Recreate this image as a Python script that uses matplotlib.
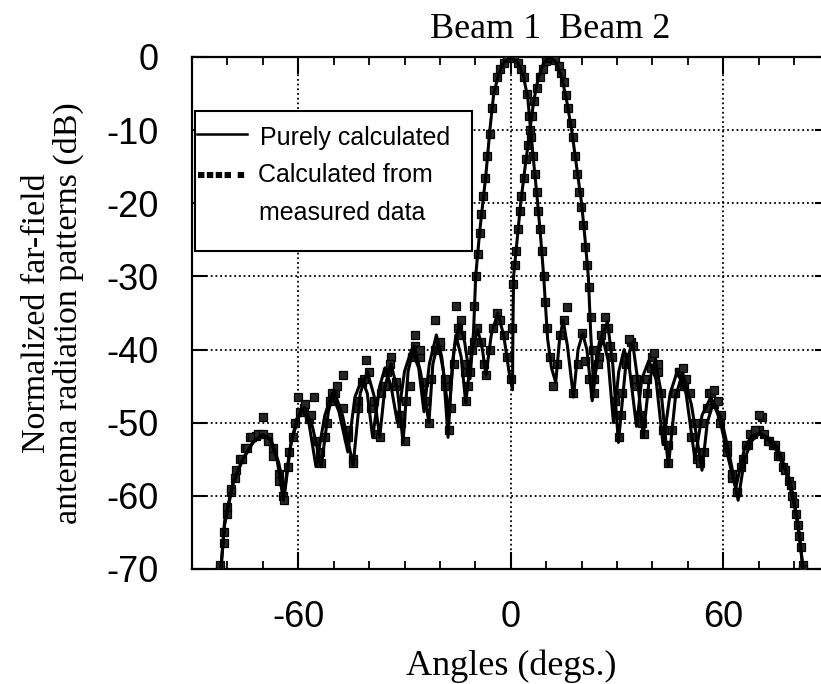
import matplotlib
matplotlib.use("Agg")
import matplotlib.pyplot as plt
from matplotlib.lines import Line2D
from matplotlib.patches import Rectangle

plt.rcParams['axes.unicode_minus'] = False

# ---------------- data ----------------
beam1_calc_x = [-82, -80.8, -78.3, -75.5, -72.5, -70, -67.6, -65.5, -63.8, -62, -59, -57, -55, -52.5,
                -50.5, -48.5, -46, -44, -42, -40.5, -39, -37, -35.5, -33.8, -32, -30, -28, -26, -24.5,
                -23, -21, -19.5, -17.5, -16, -14.5, -13, -11.5, -10.5, -9.9, -8.8, -7.9, -7.0, -5.9,
                -4.8, -3.5, -2, 0, 2, 3.5, 4.8, 5.6, 6.6, 7.6, 8.5, 9.3, 10.4, 11.5, 12.7, 13.8, 14.8,
                16, 17.7, 19, 20.3, 21.5, 23, 24.5, 26, 27.5, 29, 30.5, 32, 33.5, 35.5, 37, 39, 41, 43,
                45, 47, 49.5, 52, 54, 56.5, 59, 61.5, 63.5, 66, 68, 70, 72.5, 75, 77.5, 80, 81.5, 82.8]
beam1_calc_y = [-71, -63.5, -57.9, -54.9, -52.5, -51.6, -52.4, -55.5, -59.5, -52.5, -48, -50, -56, -49,
                -46, -48.5, -54, -46.5, -44, -46, -52, -45, -42.5, -45, -50, -43, -40, -42.5, -48.5,
                -42, -38, -41, -49, -40, -36.5, -39, -44, -37.5, -30, -24, -20, -16, -10,
                -5, -2.5, -0.8, 0, -0.8, -2.5, -5.5, -10, -15, -20, -25, -30, -38.5, -42.5, -44.5, -38.5, -36,
                -39.5, -46.5, -40, -37.8, -40, -47, -41, -38.5, -41.5, -50, -43, -40, -42.5, -50.5, -44, -41.5, -44, -53,
                -46, -43, -46, -55, -49, -46.5, -49.5, -55, -59, -53.5, -51.8, -51.5, -52.3, -53.8, -56.5, -61, -65.5, -71]

beam2_calc_x = [-82, -80.8, -78.5, -76, -73, -70.5, -68, -66, -64.2, -62.5, -60.5, -58.3, -56, -53.5,
                -51.5, -49.9, -47.5, -44.5, -42.5, -40.5, -38.5, -37, -35.5, -33.8, -32, -30.4, -29,
                -27.3, -25.5, -23.1, -22, -20.5, -19, -17.7, -16.5, -15.5, -14, -12.7, -11, -9.3, -8,
                -7, -5.5, -3.7, -2, -0.5, 0.5, 0.6, 0.8, 1.8, 2.8, 3.8, 5.4, 6.5, 7.8, 9.3, 11.1, 12.9,
                14.4, 15.8, 17.2, 18.6, 20.0, 21.0, 21.9, 22.6, 23.4, 25, 27.3, 28.8, 30.4, 32.5, 34.4,
                35.8, 37.4, 39, 40.8, 42.5, 44.5, 46.5, 48.5, 51, 54, 55.5, 57.2, 59.5, 62, 64.2, 66, 68,
                70.4, 73, 75.2, 78.9, 81.1, 82.6]
beam2_calc_y = [-71, -64, -58.5, -55.3, -52.8, -51.8, -52.2, -55, -60.6, -54, -49.5, -47.9, -50.5, -56,
                -48.5, -45.6, -49, -55.8, -46, -43, -46.5, -52, -45, -42, -45.5, -52.7, -43,
                -39.5, -43, -50, -42, -39, -43, -52, -42, -38, -41, -47.3, -40, -37.3, -40,
                -43.5, -38, -35, -38, -43, -45.5, -38, -30, -25, -20, -16, -10, -6, -2.8, -0.8, 0, -0.8,
                -2.8, -6, -10, -15, -20, -25, -30, -38, -45, -39, -36.2, -42, -52.7, -42, -39,
                -44, -52, -44.5, -41.4, -46, -56, -46.5, -43.2, -47.5, -56.5, -50, -47.2, -49.5, -55, -60.6, -55, -52.5,
                -51.4, -52.2, -53.3, -57.9, -63.7, -70.5]

beam1_meas_x = [-82, -81, -80, -79, -78, -76.5, -75, -73.5, -72, -70, -68.5, -67, -65.5, -64.2, -63,
                -61.5, -60, -58.5, -57, -55.5, -54, -52.5, -51, -49.5, -47.5, -46, -44.5, -43, -42,
                -40.8, -39.5, -38, -36.5, -35, -33.8, -32.5, -31, -29.5, -28, -27, -25.5, -24, -22.5,
                -21.5, -20, -18.5, -17, -15.5, -14, -13, -12, -11, -10.3, -9.8, -9.3, -8.8, -8.3, -7.8,
                -7.2, -6.6, -6, -5.3, -4.6, -3.8, -3, -2, -1, 0, 1, 2, 3, 3.8, 4.6, 5.2, 5.8, 6.3, 6.8,
                7.3, 7.8, 8.3, 8.8, 9.3, 9.8, 10.3, 11, 12, 13, 14, 15, 16, 17.5, 19, 20, 21, 22, 23.5,
                25, 26.5, 28, 29.5, 31, 32.5, 34, 35.5, 37, 38.5, 40, 41.5, 43, 44.5, 46, 47.5, 49, 51,
                52.5, 54, 56, 57.5, 59, 61, 62.5, 64, 65.5, 67, 68.5, 70, 71, 72.5, 74, 75.5, 77, 78.5,
                79.5, 80.5, 81.5, 82.5]
beam1_meas_y = [-70, -66.5, -62.5, -59.5, -57.5, -55, -53.5, -52, -51.8, -49.2, -52, -53.5, -57, -60, -56,
                -52, -46.5, -48, -49.5, -46.5, -54, -52, -47, -46, -43.5, -51, -55, -47, -44.5,
                -41.4, -48, -51.5, -46, -43, -41, -45, -50, -47, -41, -38, -41, -47, -44,
                -36, -39.5, -45, -48, -34, -38, -42, -45, -40, -34, -30, -27, -24, -21.5, -19,
                -16.5, -13.5, -10.5, -7, -4.5, -2.8, -1.7, -0.8, -0.2, 0, -0.2, -0.8, -1.7, -2.8, -5, -8, -11, -13.5, -16,
                -18.5, -21, -23.5, -26.5, -30, -33.5, -37, -41, -45, -42, -38, -36, -34.2, -46, -42, -37.8, -41.5, -44, -46,
                -41, -37, -39.5, -47, -49, -42, -39, -45, -50, -44, -41, -43, -51, -53, -46, -43, -45, -52,
                -55, -50, -46, -47.5, -50, -54, -57.5, -59.5, -55, -53, -51.5, -51, -49.2, -52.5, -53, -54.5, -56, -58,
                -60, -62.5, -65.5, -69.5]

beam2_meas_x = [-82, -81, -80, -79, -77.5, -76, -74.5, -73, -71.5, -70, -68.5, -67, -65.5, -64, -62.5,
                -61, -59.5, -58, -56.5, -55, -53.5, -52, -50.5, -49, -47.5, -46, -44.5, -43, -41.5, -40,
                -38.5, -37, -35.5, -34, -32.5, -31, -30, -28.5, -27, -25.5, -24.5, -23, -21.5, -20,
                -18.5, -17.5, -16, -15, -14, -13, -12.5, -11.5, -10.5, -9.5, -8.5, -7.5, -7, -6, -5, -4,
                -3, -2, -1, 0, 0.3, 0.7, 1.1, 1.5, 2.0, 2.5, 3.0, 3.6, 4.2, 4.8, 5.4, 6.0, 6.7, 7.4, 8.2,
                9, 10, 11, 11.7, 12.5, 13.5, 14.3, 15, 15.7, 16.3, 16.9, 17.5, 18.1, 18.7, 19.3, 19.9,
                20.5, 21.1, 21.6, 22.1, 22.6, 23.1, 23.6, 24.5, 25.5, 26.5, 27.5, 28.5, 29.5, 30.5, 31.5,
                32.5, 33.5, 34.5, 35.5, 36.5, 37.5, 38.5, 39.5, 40.5, 41.5, 42.5, 43.5, 44.5, 45.5, 46.5,
                47.5, 48.5, 49.5, 50.5, 52, 53.5, 54.5, 55.5, 56.5, 57.5, 58.5, 59.5, 61, 62.5, 64, 65,
                66.5, 67.5, 69, 70, 71.5, 73, 74.5, 76, 77.5, 79, 80, 81, 82, 82.5]
beam2_meas_y = [-69.5, -65, -61.5, -59, -56.5, -55, -53.5, -52, -51.5, -51.5, -52.5, -54.5, -58, -60.5, -54,
                -50, -48.5, -47.5, -49, -52.5, -55.5, -50, -46, -45, -48, -52, -55.5, -48, -44, -43,
                -47, -52, -45, -42, -44.5, -49, -52.5, -45, -39.5, -40, -44.5, -50, -40, -39,
                -44, -51, -42, -37, -36, -43, -47, -43, -39, -37, -39, -42, -43.5, -40, -37, -35,
                -36, -38, -41, -44, -37, -31, -28.5, -26.5, -23.5, -21, -19, -16.5, -14, -12, -10, -8, -6, -4.2, -2.8,
                -1.6, -0.6, -0.1, 0, -0.4, -1.2, -2.2, -3.4, -5.2, -7, -9, -11, -13.5, -16, -18.5, -20.5,
                -23, -26, -28.5, -31.5, -35.5, -40, -44, -42, -38, -35.5, -37, -41, -47, -52, -46,
                -41, -38.5, -39.5, -44, -49, -51.5, -46, -42.5, -40.5, -42, -46, -51, -55.5, -51, -46,
                -43, -42.5, -44, -46, -50, -55.5, -54, -48, -46, -45.5, -47, -49, -53, -57, -59.5, -56,
                -53, -51.5, -51, -49, -51.5, -52.5, -53, -54.5, -56.5, -58.5, -61, -64, -67, -70]

x_major_ticks = [-60, 0, 60]
x_minor_ticks = [-80, -70, -50, -40, -30, -20, -10, 10, 20, 30, 40, 50, 70, 80]
y_ticks = [0, -10, -20, -30, -40, -50, -60, -70]

legend_labels = ["Purely calculated", "Calculated from", "measured data"]
beam_title = "Beam 1  Beam 2"
x_label = "Angles (degs.)"
y_label = "Normalized far-field\nantenna radiation patterns (dB)"

# ---------------- figure ----------------
W, H = 821, 684
fig = plt.figure(figsize=(W / 100, H / 100), dpi=100)
ax = fig.add_axes([192 / W, 1 - 569 / H, (829.5 - 192) / W, (569 - 57) / H])

ax.set_xlim(-90, 90)
ax.set_ylim(-70, 0)

meas_style = dict(linestyle='none', marker='s', markersize=5.4, markerfacecolor='#262626',
                  markeredgecolor='#000000', markeredgewidth=0.9, zorder=3)
ax.plot(beam1_meas_x, beam1_meas_y, **meas_style)
ax.plot(beam2_meas_x, beam2_meas_y, **meas_style)
ax.plot(beam1_calc_x, beam1_calc_y, color='black', linewidth=2.2, zorder=4)
ax.plot(beam2_calc_x, beam2_calc_y, color='black', linewidth=2.2, zorder=4)

ax.set_xticks(x_major_ticks)
ax.set_xticks(x_minor_ticks, minor=True)
ax.set_yticks(y_ticks)
ax.set_xticklabels([str(v) for v in x_major_ticks])
ax.set_yticklabels([str(v) for v in y_ticks])

ax.grid(True, which='major', color='black', linestyle=(0, (1, 1.6)), linewidth=1.3)
ax.set_axisbelow(True)

for s in ax.spines.values():
    s.set_linewidth(1.6)

ax.tick_params(axis='x', which='major', direction='in', length=12, width=1.5, top=True,
               labelsize=26, pad=22)
ax.tick_params(axis='x', which='minor', direction='in', length=6, width=1.3, top=True)
ax.tick_params(axis='y', which='major', direction='in', length=11, width=1.5, right=True,
               labelsize=26, pad=24)
for lab in ax.get_xticklabels() + ax.get_yticklabels():
    lab.set_fontfamily('Liberation Sans')

ax.set_xlabel(x_label, fontsize=26, family='Liberation Serif', labelpad=11)
ax.set_ylabel(y_label, fontsize=24.5, family='Liberation Serif', labelpad=16,
              multialignment='center', linespacing=1.05)

fig.text(550 / W, 1 - 29 / H, beam_title, fontsize=26, family='Liberation Serif',
         ha='center', va='center')

# ---------------- legend box (drawn in axes fraction) ----------------
lx0, lx1 = 0.0047, 0.439
ly0, ly1 = 0.621, 0.8945
ax.add_patch(Rectangle((lx0, ly0), lx1 - lx0, ly1 - ly0, transform=ax.transAxes,
                       facecolor='white', edgecolor='black', linewidth=1.5, zorder=10))
ax.add_line(Line2D([0.008, 0.086], [0.8496, 0.8496], transform=ax.transAxes,
                   color='black', linewidth=1.8, zorder=11))
ax.add_line(Line2D([0.0094, 0.091], [0.7695, 0.7695], transform=ax.transAxes,
                   color='black', linewidth=4.4, solid_capstyle='butt', dash_capstyle='butt',
                   dashes=[1.05, 0.4, 1.05, 0.4, 1.05, 0.4, 1.05, 1.1, 1.05, 1.1, 1.05, 0],
                   zorder=11))
ax.text(0.1067, 0.842, legend_labels[0], transform=ax.transAxes, fontsize=18,
        family='Liberation Sans', va='center', ha='left', zorder=12)
ax.text(0.1035, 0.7695, legend_labels[1], transform=ax.transAxes, fontsize=18,
        family='Liberation Sans', va='center', ha='left', zorder=12)
ax.text(0.105, 0.695, legend_labels[2], transform=ax.transAxes, fontsize=18,
        family='Liberation Sans', va='center', ha='left', zorder=12)

fig.savefig("out.png", dpi=100)
